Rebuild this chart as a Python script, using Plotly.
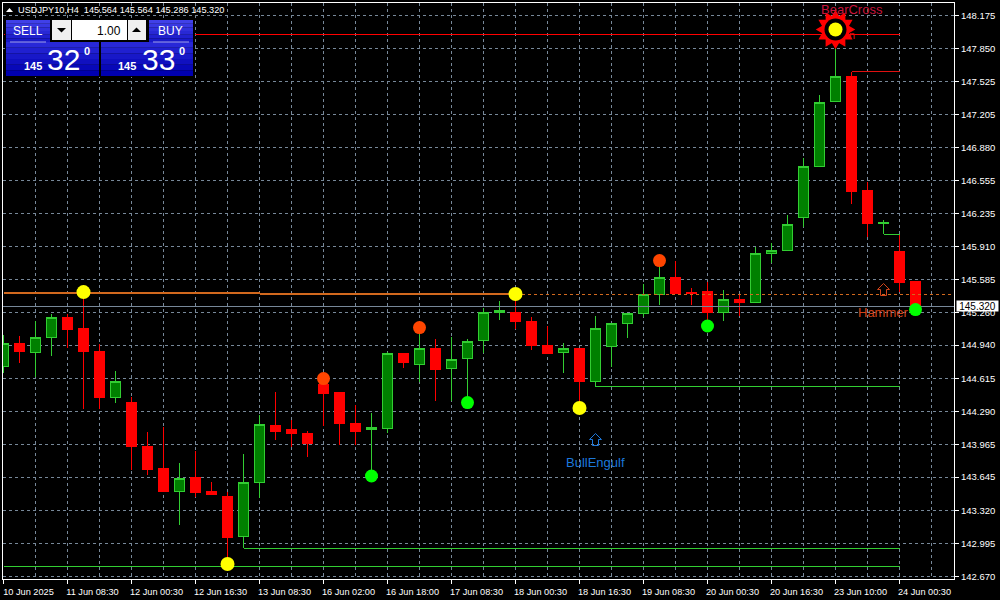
import plotly.graph_objects as go

TITLE = "USDJPY10,H4  145.564 145.564 145.286 145.320"
opens = [144.728,144.961,144.869,145.013,145.216,145.108,144.882,144.428,144.382,143.950,143.734,143.508,143.639,143.508,143.459,143.060,143.590,144.156,144.117,144.078,144.558,144.480,144.176,144.110,144.120,144.863,144.748,144.912,144.709,144.807,144.983,145.258,145.262,145.174,144.938,144.866,144.909,144.585,144.924,145.150,145.248,145.435,145.605,145.453,145.471,145.258,145.392,145.356,145.837,145.866,146.190,146.691,147.329,147.578,146.462,146.131,145.863,145.564]
highs = [145.039,145.029,145.177,145.245,145.245,145.432,144.951,144.686,144.434,144.087,144.139,143.786,143.901,143.600,143.499,143.871,144.254,144.480,144.205,144.097,144.617,144.480,144.352,144.271,144.872,144.863,145.108,144.997,145.017,144.997,145.304,145.373,145.442,145.216,145.128,144.958,144.909,145.226,145.157,145.255,145.540,145.775,145.762,145.500,145.559,145.481,145.432,145.906,145.945,146.217,146.773,147.394,148.032,147.623,146.538,146.168,146.030,145.564]
lows = [144.669,144.767,144.630,144.836,144.915,144.313,144.313,144.375,143.714,143.668,143.503,143.175,143.452,143.469,142.782,142.949,143.443,144.009,143.940,143.845,144.149,143.963,143.960,143.656,144.080,144.718,144.575,144.394,144.394,144.382,144.866,145.186,145.101,144.892,144.853,144.669,144.323,144.532,144.722,145.013,145.219,145.334,145.446,145.334,145.128,145.177,145.226,145.353,145.749,145.863,146.102,146.688,147.326,146.325,145.998,146.027,145.458,145.286]
closes = [144.958,144.882,145.017,145.213,145.098,144.875,144.424,144.585,143.943,143.724,143.508,143.636,143.499,143.479,143.057,143.594,144.163,144.097,144.071,143.979,144.470,144.169,144.097,144.133,144.860,144.774,144.909,144.706,144.801,144.977,145.262,145.282,145.170,144.934,144.856,144.909,144.581,145.105,145.154,145.252,145.439,145.605,145.451,145.448,145.258,145.390,145.356,145.841,145.870,146.126,146.698,147.323,147.578,146.452,146.131,146.148,145.559,145.320]

y_ticks = [148.175,147.85,147.525,147.205,146.88,146.555,146.235,145.91,145.585,145.26,144.94,144.615,144.29,143.965,143.645,143.32,142.995,142.67]
y_labels = ["148.175","147.850","147.525","147.205","146.880","146.555","146.235","145.910","145.585","145.260","144.940","144.615","144.290","143.965","143.645","143.320","142.995","142.670"]
x_ticks = list(range(0, 57, 4))
x_labels = ["10 Jun 2025","11 Jun 08:30","12 Jun 00:30","12 Jun 16:30","13 Jun 08:30","16 Jun 02:00","16 Jun 18:00","17 Jun 08:30","18 Jun 00:30","18 Jun 16:30","19 Jun 08:30","20 Jun 00:30","20 Jun 16:30","23 Jun 10:00","24 Jun 00:30"]
x_minor = list(range(2, 59, 4))

level_red_top = 147.988
level_red_step = 147.623
level_green_step = 146.030
level_green_a = 144.532
level_green_b = 142.946
level_green_c = 142.770
level_orange_a = 145.454
level_orange_b = 145.442
level_orange_c = 145.435
bid = 145.320

yellow_x = [5, 32, 36, 14]
yellow_y = [145.461, 145.442, 144.323, 142.792]
orange_x = [20, 26, 41]
orange_y = [144.612, 145.113, 145.770]
lime_x = [23, 29, 44, 57]
lime_y = [143.656, 144.377, 145.128, 145.289]
sun_x = 52
sun_y = 148.037

W, H = 1000, 600
L, R, T, B = 3, 954, 3, 579
PW, PH = R - L, B - T
px = lambda x: (x - L) / PW
py = lambda y: 1 - (y - T) / PH

SLOPE = 0.009813
yhi = 148.175 + 12.5 * SLOPE
ylo = 142.67 - 2.5 * SLOPE
xlo = -0.5 / 16
xhi = xlo + PW / 16

GREEN_LINE = "#32cd32"
ORANGE = "#d2691e"
SANS = "Liberation Sans"

fig = go.Figure()
fig.add_trace(go.Candlestick(
    x=list(range(len(opens))), open=opens, high=highs, low=lows, close=closes,
    increasing=dict(line=dict(color=GREEN_LINE, width=1), fillcolor="#008000"),
    decreasing=dict(line=dict(color="#ff0000", width=1), fillcolor="#ff0000"),
    whiskerwidth=0, hoverinfo="skip", showlegend=False))


def hline(x0, x1, y, color, width=1, dash="solid"):
    fig.add_trace(go.Scatter(x=[x0, x1], y=[y, y], mode="lines", showlegend=False, hoverinfo="skip",
                             line=dict(color=color, width=width, dash=dash)))


hline(0, 56, level_red_top, "#ff0000", 1.5)
hline(53, 56, level_red_step, "#e01010", 1)
hline(55, 56, level_green_step, GREEN_LINE, 1)
hline(37, 56, level_green_a, GREEN_LINE, 1)
hline(15, 56, level_green_b, GREEN_LINE, 1)
hline(0, 56, level_green_c, GREEN_LINE, 1)
hline(0, 16, level_orange_a, ORANGE, 2)
hline(16, 32, level_orange_b, ORANGE, 2)
hline(32, xhi, level_orange_c, ORANGE, 1, "3px,3px")
hline(xlo, xhi, bid, "#778899", 1)


def dots(x, y, color, size=14, symbol="circle", angle=0):
    fig.add_trace(go.Scatter(x=x, y=y, mode="markers", showlegend=False, hoverinfo="skip",
                             marker=dict(color=color, size=size, symbol=symbol, angle=angle, line=dict(width=0))))


dots([sun_x], [sun_y], "#ff0000", 30, "hexagram", 0)
dots([sun_x], [sun_y], "#ff0000", 30, "hexagram", 30)
dots([sun_x], [sun_y], "#000000", 22)
dots(yellow_x + [sun_x], yellow_y + [sun_y], "#ffff00", 14)
dots(orange_x, orange_y, "#ff4500", 13)
dots(lime_x, lime_y, "#00ff00", 13)

annotations = []
shapes = []


def note(text, x, y, color, size, anchor="center", font=SANS, xref="x", yref="y", **kw):
    annotations.append(dict(text=text, x=x, y=y, xref=xref, yref=yref, showarrow=False, xanchor=anchor,
                            yanchor="middle", font=dict(color=color, size=size, family=font), **kw))


def pnote(text, x, y, color, size, anchor="center", font=SANS, **kw):
    note(text, px(x), py(y), color, size, anchor, font, "paper", "paper", **kw)


note("BearCross", 53, 148.238, "#c8143c", 13)
note("n", 53, 147.985, "#e01010", 11)
note("Hammer", 55, 145.26, "#d2441a", 13)
note("BullEngulf", 37, 143.793, "#1c78dc", 13)
annotations.append(dict(text="145.320", x=px(956), y=bid, xref="paper", yref="y", showarrow=False, xanchor="left",
                        yanchor="middle", bgcolor="#ffffff", width=41, height=10, borderpad=0, align="center",
                        font=dict(color="#000000", size=10, family=SANS)))


def rect(x0, y0, x1, y1, fill):
    shapes.append(dict(type="rect", xref="paper", yref="paper", layer="above",
                       x0=px(x0), x1=px(x1), y0=py(y0), y1=py(y1), fillcolor=fill, line=dict(width=0)))


def poly(points, fill=None, line=None):
    d = "M " + " L ".join(f"{px(a)} {py(b)}" for a, b in points) + " Z"
    shapes.append(dict(type="path", xref="paper", yref="paper", layer="above", path=d,
                       fillcolor=fill or "rgba(0,0,0,0)", line=dict(width=1 if line else 0, color=line or "#000")))


def arrow(cx, top, color):
    poly([(cx, top), (cx + 6, top + 6), (cx + 3, top + 6), (cx + 3, top + 12),
          (cx - 3, top + 12), (cx - 3, top + 6), (cx - 6, top + 6)], line=color)


def gradient(x0, y0, x1, y1, top, bottom, n=6):
    for i in range(n):
        t = i / (n - 1)
        c = "#%02x%02x%02x" % tuple(round(a + (b - a) * t) for a, b in zip(top, bottom))
        rect(x0, y0 + (y1 - y0) * i / n, x1, y0 + (y1 - y0) * (i + 1) / n, c)


arrow(595.5, 433.5, "#1c78dc")
arrow(883.5, 283.5, "#d2441a")

TOPC, BOTC = (64, 64, 232), (0, 0, 176)
rect(5, 19, 195, 77, "#000000")
gradient(6, 20, 50, 42, TOPC, (24, 24, 200))
gradient(149, 20, 193, 42, TOPC, (24, 24, 200))
gradient(6, 42, 99, 76, (40, 40, 216), BOTC)
gradient(101, 42, 193, 76, (40, 40, 216), BOTC)
rect(10, 41.5, 46, 42.5, "#a0a0e8")
rect(153, 41.5, 189, 42.5, "#a0a0e8")
rect(52, 20, 71, 40, "#f0f0f0")
rect(72, 20, 127, 40, "#ffffff")
rect(128, 20, 146, 40, "#f0f0f0")
poly([(57, 28), (66, 28), (61.5, 32.5)], "#000000")
poly([(132, 32), (141, 32), (136.5, 27.5)], "#000000")
poly([(6, 12), (13, 12), (9.5, 8)], "#ffffff")

pnote(TITLE.replace("  ", "&nbsp;&nbsp;"), 16, 10, "#ffffff", 9.2, "left")
pnote("SELL", 27.5, 31, "#ffffff", 12)
pnote("BUY", 170, 31, "#ffffff", 12)
pnote("1.00", 123, 30.5, "#000000", 12, "right")
pnote("<b>145</b>", 33, 66, "#ffffff", 11)
pnote("<b>145</b>", 127, 66, "#ffffff", 11)
pnote("32", 63.5, 59.5, "#ffffff", 30)
pnote("33", 158.5, 59.5, "#ffffff", 30)
pnote("<b>0</b>", 87, 50.5, "#ffffff", 11)
pnote("<b>0</b>", 181.5, 50.5, "#ffffff", 11)

GRID = "#778899"
fig.update_layout(
    width=W, height=H, paper_bgcolor="#000000", plot_bgcolor="#000000", showlegend=False,
    margin=dict(l=L, r=W - R, t=T, b=H - B, pad=0, autoexpand=False), boxgap=0.2, boxgroupgap=0.22, hovermode=False,
    annotations=annotations, shapes=shapes,
    xaxis=dict(range=[xlo, xhi], tickmode="array", tickvals=x_ticks, ticktext=x_labels, automargin=False,
               rangeslider=dict(visible=False), showgrid=True, gridcolor=GRID, griddash="3px,3px", gridwidth=1,
               minor=dict(tickmode="array", tickvals=x_minor, showgrid=True, gridcolor=GRID, griddash="3px,3px",
                          gridwidth=1, ticks=""),
               ticks="outside", ticklen=4, tickcolor="#ffffff", tickwidth=1, tickangle=0,
               showline=True, linecolor="#ffffff", linewidth=1, mirror=True, zeroline=False,
               ticklabelshift=25, ticklabelstandoff=0,
               tickfont=dict(color="#ffffff", size=9.2, family=SANS), fixedrange=True),
    yaxis=dict(range=[ylo, yhi], side="right", tickmode="array", tickvals=y_ticks, ticktext=y_labels, automargin=False,
               showgrid=True, gridcolor=GRID, griddash="3px,3px", gridwidth=1,
               ticks="outside", ticklen=4, tickcolor="#ffffff", tickwidth=1,
               showline=True, linecolor="#ffffff", linewidth=1, mirror=True, zeroline=False,
               tickfont=dict(color="#ffffff", size=9.5, family=SANS), fixedrange=True),
)

CRISP = ("document.body.style.margin='0';document.body.style.overflow='hidden';document.body.style.background='#000';"
         "document.querySelectorAll('.scatterlayer .js-line, .boxlayer path, .ohlclayer path')"
         ".forEach(function(p){p.style.shapeRendering='crispEdges';});")
fig.write_html("out.html", config=dict(displayModeBar=False), post_script=CRISP)
